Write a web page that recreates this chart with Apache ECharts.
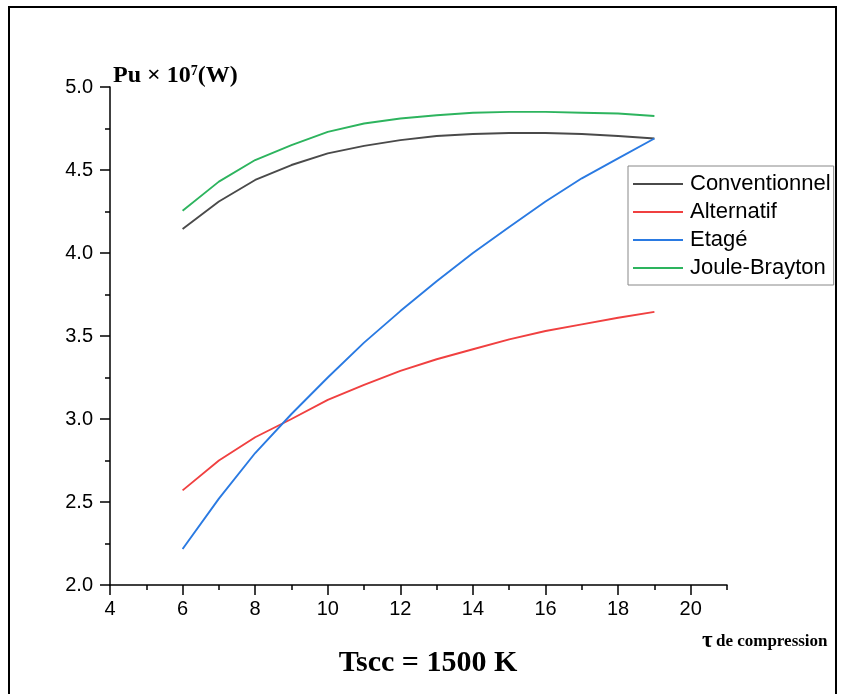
<!DOCTYPE html>
<html><head><meta charset="utf-8">
<script src="https://cdn.jsdelivr.net/npm/echarts@6/dist/echarts.min.js"></script>
<style>html,body{margin:0;padding:0;background:#fff}#c{width:842px;height:694px}</style>
</head><body><div id="c"></div>
<script>
const tau = [6,7,8,9,10,11,12,13,14,15,16,17,18,19];
const conventionnel = [4.145,4.31,4.44,4.53,4.60,4.645,4.68,4.705,4.717,4.723,4.723,4.717,4.705,4.69];
const alternatif = [2.57,2.75,2.89,3.0,3.115,3.205,3.29,3.36,3.42,3.48,3.53,3.57,3.61,3.645];
const etage = [2.217,2.52,2.795,3.03,3.25,3.46,3.65,3.83,4.0,4.157,4.31,4.45,4.57,4.69];
const jouleBrayton = [4.255,4.43,4.56,4.65,4.73,4.78,4.81,4.83,4.845,4.85,4.85,4.845,4.84,4.825];
const seriesNames = ['Conventionnel','Alternatif','Etagé','Joule-Brayton'];
const seriesColors = ['#4a4a4a','#f04040','#2a7ae2','#2db45e'];
const xMajor = [4,6,8,10,12,14,16,18,20];

const pair = arr => tau.map((t,i)=>[t,arr[i]]);
const allData = [conventionnel, alternatif, etage, jouleBrayton];

const chart = echarts.init(document.getElementById('c'));
const axisFont = {fontFamily:'Liberation Sans, Arial', fontSize:20, color:'#000'};
const serif = 'Liberation Serif, Times New Roman';
chart.setOption({
  animation:false,
  grid:{left:110, top:87, right:115, bottom:109},
  legend:{
    left:628, top:166, orient:'vertical',
    padding:[7,3,6,5], itemGap:6, itemWidth:50, itemHeight:14,
    borderColor:'#888', borderWidth:1, borderRadius:0,
    textStyle:{fontFamily:'Liberation Sans, Arial', fontSize:22, lineHeight:22, color:'#000', padding:[0,0,0,2]},
    data:seriesNames.map(n=>({name:n, icon:'path://M0,0 L50,0 L50,2 L0,2 Z'}))
  },
  xAxis:[
    {type:'value', min:4, max:21, interval:1,
     axisLine:{show:true, lineStyle:{color:'#000', width:1.5}},
     axisTick:{show:true, length:5, lineStyle:{color:'#000', width:1.5}},
     axisLabel:{show:false}, splitLine:{show:false}},
    {type:'value', min:4, max:21, interval:2, position:'bottom',
     axisLine:{show:false},
     axisTick:{show:true, length:10, customValues:xMajor, lineStyle:{color:'#000', width:1.5}},
     axisLabel:Object.assign({show:true, customValues:xMajor, margin:14}, axisFont),
     splitLine:{show:false}}
  ],
  yAxis:{type:'value', min:2, max:5, interval:0.5,
    axisLine:{show:true, lineStyle:{color:'#000', width:1.5}},
    axisTick:{show:true, length:10, lineStyle:{color:'#000', width:1.5}},
    minorTick:{show:true, splitNumber:2, length:5, lineStyle:{color:'#000', width:1.5}},
    axisLabel:Object.assign({formatter:v=>v.toFixed(1), margin:17}, axisFont),
    splitLine:{show:false}},
  series:allData.map((d,i)=>({
    name:seriesNames[i], type:'line', xAxisIndex:0, data:pair(d), symbol:'none', smooth:false,
    lineStyle:{color:seriesColors[i], width:1.9}, itemStyle:{color:seriesColors[i]}
  })),
  graphic:[
    {type:'rect', shape:{x:9, y:7, width:827, height:700}, style:{fill:'none', stroke:'#000', lineWidth:2}, silent:true},
    {type:'text', left:113, top:64, style:{
      text:'{a|Pu × 10}{s|7}{a|(W)}',
      rich:{a:{fontFamily:serif, fontWeight:'bold', fontSize:24, fill:'#000'},
            s:{fontFamily:serif, fontWeight:'bold', fontSize:14, fill:'#000', verticalAlign:'top'}}
    }},
    {type:'text', left:702, top:630, style:{
      text:'{t|τ} {d|de compression}',
      rich:{t:{fontFamily:serif, fontWeight:'bold', fontSize:23, fill:'#000'},
            d:{fontFamily:serif, fontWeight:'bold', fontSize:17, fill:'#000'}}
    }},
    {type:'text', style:{
      x:428, y:663, align:'center', verticalAlign:'middle',
      text:'Tscc = 1500 K', fontFamily:serif, fontWeight:'bold', fontSize:30, fill:'#000'
    }}
  ]
});
</script></body></html>
